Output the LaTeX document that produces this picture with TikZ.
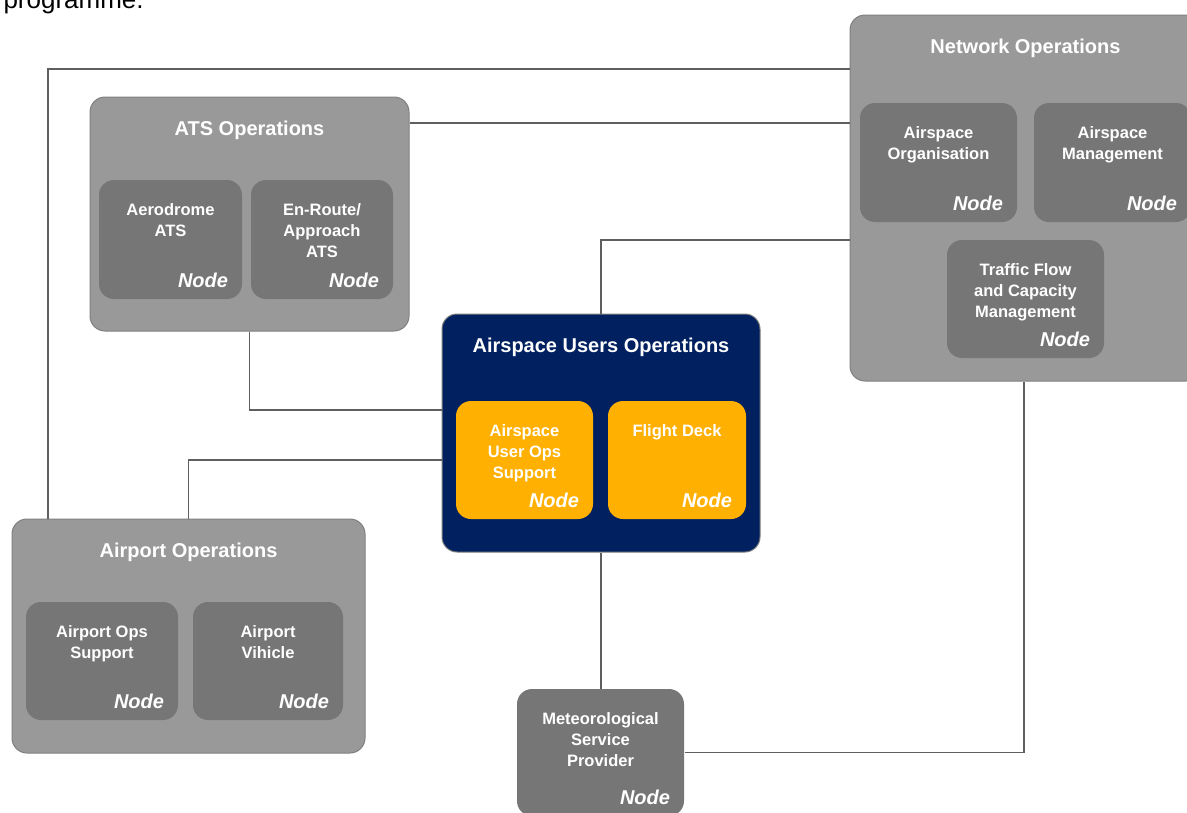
\documentclass[tikz,border=0pt]{standalone}
\usepackage{fontspec}
\setmainfont{Liberation Sans}
\definecolor{grpfill}{HTML}{999999}
\definecolor{grpline}{HTML}{808080}
\definecolor{subgrey}{HTML}{767676}
\definecolor{navy}{HTML}{002060}
\definecolor{amber}{HTML}{FFB000}
\definecolor{linkgrey}{HTML}{5F5F5F}
\begin{document}
\begin{tikzpicture}[x=1pt, y=-1pt, line width=1pt,
  grp/.style={draw=grpline, fill=grpfill, rounded corners=15pt, inner sep=0pt},
  grptitle/.style={anchor=base, text=white, inner sep=0pt, font=\fontsize{20}{24}\selectfont\bfseries},
  subtxt/.style={anchor=north, align=center, text=white, inner sep=0pt, font=\fontsize{16.5}{21}\selectfont\bfseries},
  tag/.style={anchor=base east, text=white, inner sep=0pt, font=\fontsize{20}{24}\selectfont\bfseries\itshape},
  link/.style={draw=linkgrey, line width=1.2pt}]
\useasboundingbox (0,0) rectangle (1187,812);
\clip (0,0) rectangle (1187,812);
\def\subnode#1#2#3#4#5#6#7{%
  \node[fill=#2, rounded corners=15pt, inner sep=0pt,
        minimum width={#5-#3}, minimum height={#6-#4}]
        (#1) at ({(#3+#5)/2},{(#4+#6)/2}) {};
  \node[subtxt] at ([yshift=-24pt]#1.north) {#7};
  \node[tag] at ([xshift=-14pt,yshift=12pt]#1.south east) {Node};
}
% text cut off above
\node[anchor=base west, inner sep=0pt, font=\fontsize{26}{30}\selectfont] (prog) at (3,8) {programme.};
% ATS
\node[grp, minimum width=319pt, minimum height=234pt] (ats) at (249.5,214) {};
\node[grptitle] at ([yshift=-39pt]ats.north) {ATS Operations};
\subnode{aero}{subgrey}{99}{180}{242}{299}{Aerodrome\\ATS}
\subnode{enroute}{subgrey}{251}{180}{393}{299}{En-Route/\\Approach\\ATS}
% Network
\node[grp, minimum width=351pt, minimum height=366pt] (netops) at (1025.5,198) {};
\node[grptitle] at ([yshift=-39pt]netops.north) {Network Operations};
\subnode{asorg}{subgrey}{860}{103}{1017}{222}{Airspace\\Organisation}
\subnode{asman}{subgrey}{1034}{103}{1191}{222}{Airspace\\Management}
\subnode{tfcm}{subgrey}{947}{240}{1104}{358}{Traffic Flow\\and Capacity\\Management}
% Airspace users
\node[grp, fill=navy, minimum width=318pt, minimum height=238pt] (auo) at (601,433) {};
\node[grptitle] at ([yshift=-39pt]auo.north) {Airspace Users Operations};
\subnode{aeops}{amber}{456}{401}{593}{519}{Airspace\\User Ops\\Support}
\subnode{deck}{amber}{608}{401}{746}{519}{Flight Deck}
% Airport
\node[grp, minimum width=353pt, minimum height=234pt] (airport) at (188.5,636) {};
\node[grptitle] at ([yshift=-39pt]airport.north) {Airport Operations};
\subnode{apops}{subgrey}{26}{602}{178}{720}{Airport Ops\\Support}
\subnode{apveh}{subgrey}{193}{602}{343}{720}{Airport\\Vihicle}
% Met
\subnode{met}{subgrey}{517}{689}{684}{816}{Meteorological\\Service\\Provider}
% links
\coordinate (n1) at ([yshift=129pt]netops.west);
\coordinate (n2) at ([yshift=91pt]ats.east);
\draw[link] (n1) -| ([xshift=-140.5pt]airport.north);
\draw[link] (n2) -- (n2 -| netops.west);
\draw[link] (auo.north) |- ([yshift=-42pt]netops.west);
\draw[link] (ats.south) |- ([yshift=23pt]auo.west);
\draw[link] ([yshift=-27pt]auo.west) -| (airport.north);
\draw[link] (auo.south) -- (auo.south |- met.north);
\draw[link] (met.east) -| ([xshift=-1.5pt]netops.south);
\end{tikzpicture}
\end{document}
